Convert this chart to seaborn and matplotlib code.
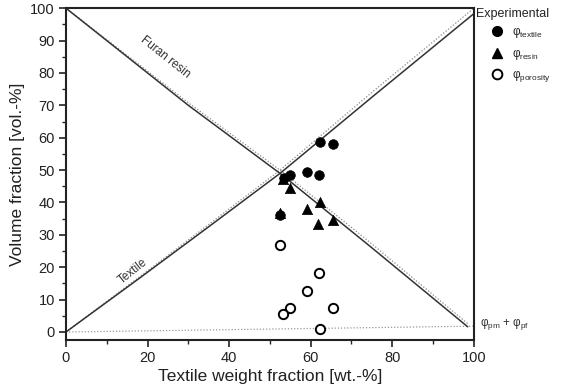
import matplotlib
matplotlib.use("Agg")
import matplotlib.pyplot as plt
from matplotlib.ticker import MultipleLocator
from matplotlib.lines import Line2D
import seaborn as sns
import pandas as pd

# Experimental data
w_textile = [62.2, 65.4, 59.1, 62.0, 54.9, 53.4, 52.5]
phi_textile = [58.8, 58.1, 49.4, 48.6, 48.4, 47.7, 36.2]

w_resin = [53.2, 54.9, 59.1, 62.2, 61.9, 65.4, 52.5]
phi_resin = [47.2, 44.6, 38.0, 40.0, 33.3, 34.5, 36.7]

w_porosity = [52.5, 62.0, 59.1, 54.9, 53.2, 65.4, 62.2]
phi_porosity = [27.0, 18.2, 12.8, 7.4, 5.6, 7.4, 1.0]

# Model lines
line_textile_x = [0, 18, 35, 52.5, 75, 100]
line_textile_y = [0, 16.6, 32.5, 49.0, 72.5, 98.3]
line_textile_dot_y = [0, 17.0, 33.2, 50.0, 74.0, 100.0]

line_resin_x = [0, 30, 53, 75, 98.5]
line_resin_y = [100, 70.0, 48.5, 26.0, 1.6]
line_resin_dot_y = [100, 70.8, 49.5, 27.2, 2.6]

line_pore_x = [0, 100]
line_pore_y = [0, 1.8]

sns.set_theme(style="ticks")
plt.rcParams['font.family'] = ['Liberation Sans', 'DejaVu Sans']
plt.rcParams['mathtext.fontset'] = 'custom'
plt.rcParams['mathtext.rm'] = 'Liberation Sans'
plt.rcParams['mathtext.it'] = 'Liberation Sans'

fig = plt.figure(figsize=(5.61, 3.90), dpi=100)
ax = fig.add_axes([0.1176, 0.128, 0.727, 0.851])

df_lt = pd.DataFrame({"x": line_textile_x, "y": line_textile_y, "yd": line_textile_dot_y})
df_lr = pd.DataFrame({"x": line_resin_x, "y": line_resin_y, "yd": line_resin_dot_y})
df_lp = pd.DataFrame({"x": line_pore_x, "y": line_pore_y})

sns.lineplot(data=df_lt, x="x", y="yd", ax=ax, color="#888888", lw=0.9, ls=(0, (1, 1.5)), zorder=1)
sns.lineplot(data=df_lr, x="x", y="yd", ax=ax, color="#888888", lw=0.9, ls=(0, (1, 1.5)), zorder=1)
sns.lineplot(data=df_lp, x="x", y="y", ax=ax, color="#999999", lw=0.9, ls=(0, (1, 1.5)), zorder=1)
sns.lineplot(data=df_lt, x="x", y="y", ax=ax, color="#333333", lw=1.1, zorder=2)
sns.lineplot(data=df_lr, x="x", y="y", ax=ax, color="#333333", lw=1.1, zorder=2)

df_t = pd.DataFrame({"x": w_textile, "y": phi_textile})
df_r = pd.DataFrame({"x": w_resin, "y": phi_resin})
df_p = pd.DataFrame({"x": w_porosity, "y": phi_porosity})

sns.scatterplot(data=df_t, x="x", y="y", ax=ax, marker="o", s=48, color="black",
                edgecolor="black", linewidth=0.5, zorder=4)
sns.scatterplot(data=df_r, x="x", y="y", ax=ax, marker="^", s=55, color="black",
                edgecolor="black", linewidth=0.5, zorder=4)
sns.scatterplot(data=df_p, x="x", y="y", ax=ax, marker="o", s=45, facecolor="white",
                edgecolor="black", linewidth=1.4, zorder=4)

ax.set_xlim(0, 100)
ax.set_ylim(-2.5, 100)
ax.xaxis.set_major_locator(MultipleLocator(20))
ax.xaxis.set_minor_locator(MultipleLocator(10))
ax.yaxis.set_major_locator(MultipleLocator(10))
ax.yaxis.set_minor_locator(MultipleLocator(5))
ax.tick_params(axis='both', which='major', direction='out', length=5, width=1.2,
               labelsize=10.5, colors='#222222', pad=3)
ax.tick_params(axis='both', which='minor', direction='out', length=3, width=1.0)
for sp in ax.spines.values():
    sp.set_linewidth(1.5)
    sp.set_color("#222222")

ax.set_xlabel("Textile weight fraction [wt.-%]", fontsize=12.5, color="#222222", labelpad=3)
ax.set_ylabel("Volume fraction [vol.-%]", fontsize=12.5, color="#222222", labelpad=4)

ax.text(24.3, 84.9, "Furan resin", rotation=-38.5, ha="center", va="center",
        fontsize=8.5, color="#333333", rotation_mode="anchor")
ax.text(16.5, 18.6, "Textile", rotation=38.5, ha="center", va="center",
        fontsize=8.5, color="#333333", rotation_mode="anchor")

ax.text(101.5, 2.6, r"$\varphi_{pm}$ + $\varphi_{pf}$", ha="left", va="center",
        fontsize=8.5, color="#333333", clip_on=False)

ax.text(1.005, 0.983, "Experimental", transform=ax.transAxes, ha="left", va="center",
        fontsize=9, color="#222222")

handles = [
    Line2D([], [], ls="none", marker="o", ms=7, mfc="black", mec="black"),
    Line2D([], [], ls="none", marker="^", ms=7.5, mfc="black", mec="black"),
    Line2D([], [], ls="none", marker="o", ms=7, mfc="white", mec="black", mew=1.4),
]
labels = [r"$\varphi_{textile}$", r"$\varphi_{resin}$", r"$\varphi_{porosity}$"]
leg = ax.legend(handles, labels, loc="upper left",
                bbox_to_anchor=(1.035, 0.948), frameon=False, fontsize=8.5,
                handletextpad=0.5, labelspacing=0.55,
                borderaxespad=0, borderpad=0, handlelength=1.5)

fig.savefig("out.png", dpi=100)
